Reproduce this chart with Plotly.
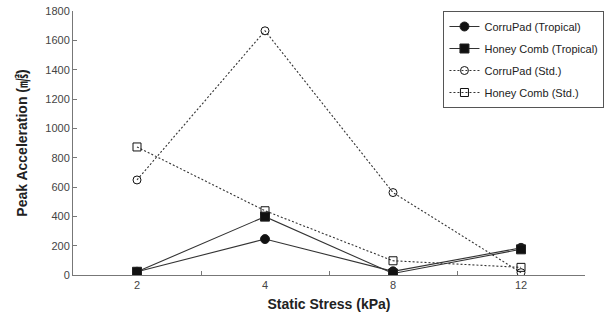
import plotly.graph_objects as go

stress = ["2", "4", "8", "12"]
corru_trop = [22, 245, 25, 185]
honey_trop = [22, 398, 10, 175]
corru_std = [648, 1665, 562, 16]
honey_std = [873, 438, 97, 52]

fig = go.Figure()
series = [
    ("CorruPad (Tropical)", corru_trop, "solid", "circle", 9),
    ("Honey Comb (Tropical)", honey_trop, "solid", "square", 9),
    ("CorruPad (Std.)", corru_std, "2px,2px", "circle-open", 8),
    ("Honey Comb (Std.)", honey_std, "2px,2px", "square-open", 8),
]
for i, (name, vals, dash, sym, sz) in enumerate(series):
    fig.add_trace(go.Scatter(
        x=stress, y=vals, name=name, mode="lines+markers", legendgroup=f"g{i}",
        line=dict(color="#333333", width=1.1, dash=dash),
        marker=dict(symbol=sym, size=sz, color="#111111",
                    line=dict(color="#222222", width=1)),
    ))

fig.update_layout(
    width=607, height=321,
    margin=dict(l=73, r=22, t=11, b=46, autoexpand=False),
    paper_bgcolor="white", plot_bgcolor="white",
    font=dict(family="Liberation Sans, Arial, sans-serif", color="#333333", size=11),
    showlegend=True,
    legend=dict(x=1.038, y=1.0, xanchor="right", yanchor="top",
                bordercolor="#555555", borderwidth=1, bgcolor="white",
                font=dict(size=11, color="#222222"), tracegroupgap=3,
                itemwidth=30),
    xaxis=dict(type="category", range=[-0.5, 3.5], showline=True, linecolor="#777777",
               linewidth=1, ticks="inside", tickson="boundaries", ticklen=4,
               tickcolor="#777777", showgrid=False, zeroline=False,
               tickfont=dict(size=11, color="#444444"),
               title=dict(text="<b>Static Stress (kPa)</b>", standoff=8,
                          font=dict(size=14, color="#222222"))),
    yaxis=dict(range=[0, 1800], dtick=200, showline=True, linecolor="#777777",
               linewidth=1, ticks="inside", ticklen=4, tickcolor="#777777",
               showgrid=False, zeroline=False,
               tickfont=dict(size=11, color="#444444"),
               title=dict(text="<b>Peak Acceleration (<span style='font-family:Noto Sans CJK KR'>㎨</span>)</b>",
                          standoff=14, font=dict(size=14, color="#222222"))),
)

fig.write_html("out.html")
